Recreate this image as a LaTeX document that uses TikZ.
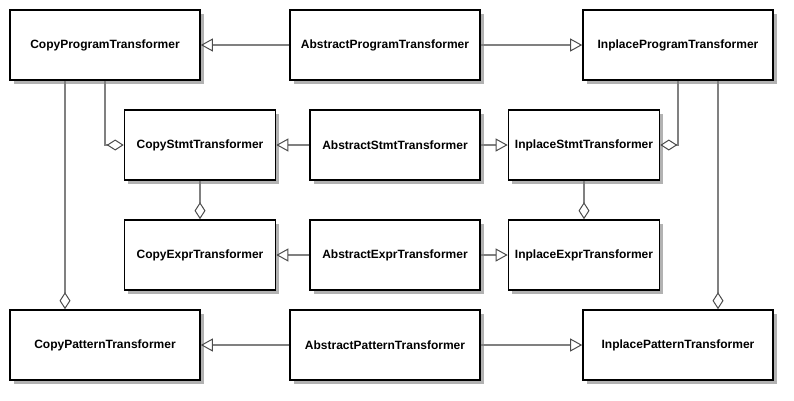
\documentclass[tikz,border=0pt]{standalone}
\usepackage{fontspec}
\setmainfont{Liberation Sans}
\usepackage{xcolor}
\usepackage{tikz}
\usetikzlibrary{arrows.meta}
\usetikzlibrary{shadows}
\usetikzlibrary{calc}

\begin{document}
\begin{tikzpicture}[x=1pt,y=-1pt,-,semithick]
 				 \tikzstyle{cls}=[draw, line width=1.6pt, fill=white, inner sep=2pt, minimum height=70pt,
 				   font=\fontsize{12}{14}\selectfont\bfseries,
 				   drop shadow={shadow xshift=3.5pt, shadow yshift=-3.5pt, fill=black!30, opacity=1}]
 				 \tikzstyle{wide}=[cls, minimum width=190pt]
 				 \tikzstyle{mid}=[cls, minimum width=170pt]
 				 \tikzstyle{narrow}=[cls, minimum width=151pt]
 				 \tikzstyle{link}=[draw=black!50, line width=1.3pt]
 				 \tikzstyle{inh}=[link, -{Triangle[open, length=12pt, width=13pt, line width=1pt, color=black!70]}]
 				 \tikzstyle{agg}=[link, -{Diamond[open, length=17pt, width=11pt, line width=1pt, color=black!70]}]
 				 \useasboundingbox (0,0) rectangle (794,400);
 					 \node[wide]   (CopyProg)  at (105,45)  {CopyProgramTransformer};
 					 \node[wide]   (AbsProg)   at (385,45)  {AbstractProgramTransformer};
 					 \node[wide]   (InplProg)  at (678,45)  {InplaceProgramTransformer};
 					 \node[narrow] (CopyStmt)  at (200,145) {CopyStmtTransformer};
 					 \node[mid]    (AbsStmt)   at (395,145) {AbstractStmtTransformer};
 					 \node[narrow] (InplStmt)  at (584,145) {InplaceStmtTransformer};
 					 \node[narrow] (CopyExpr)  at (200,255) {CopyExprTransformer};
 					 \node[mid]    (AbsExpr)   at (395,255) {AbstractExprTransformer};
 					 \node[narrow] (InplExpr)  at (584,255) {InplaceExprTransformer};
 					 \node[wide]   (CopyPat)   at (105,345) {CopyPatternTransformer};
 					 \node[wide]   (AbsPat)    at (385,345) {AbstractPatternTransformer};
 					 \node[wide]   (InplPat)   at (678,345) {InplacePatternTransformer};
				\path
				(AbsProg) edge[inh] (CopyProg)
				(AbsProg) edge[inh] (InplProg)
				(AbsStmt) edge[inh] (CopyStmt)
				(AbsStmt) edge[inh] (InplStmt)
				(AbsExpr) edge[inh] (CopyExpr)
				(AbsExpr) edge[inh] (InplExpr)
				(AbsPat) edge[inh] (CopyPat)
				(AbsPat) edge[inh] (InplPat)
				(CopyStmt) edge[agg] (CopyExpr)
				(InplStmt) edge[agg] (InplExpr)
				([xshift=-40pt]CopyProg.south) edge[agg] ([xshift=-40pt]CopyPat.north)
				([xshift=40pt]InplProg.south) edge[agg] ([xshift=40pt]InplPat.north);
				\draw[agg] (CopyProg.south) |- (CopyStmt.west);
				\draw[agg] (InplProg.south) |- (InplStmt.east);
\end{tikzpicture}
\end{document}
